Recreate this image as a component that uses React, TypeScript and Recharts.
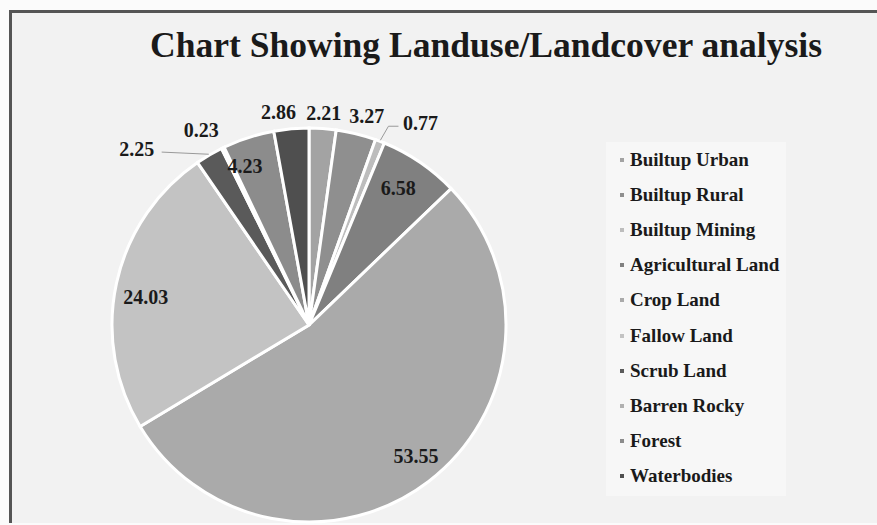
import React from "react";
import { PieChart, Pie, Cell, Legend } from "recharts";

const categories = [
  "Builtup Urban",
  "Builtup Rural",
  "Builtup Mining",
  "Agricultural Land",
  "Crop Land",
  "Fallow Land",
  "Scrub Land",
  "Barren Rocky",
  "Forest",
  "Waterbodies",
];
const shares = [2.21, 3.27, 0.77, 6.58, 53.55, 24.03, 2.25, 0.23, 4.23, 2.86];
const colors = [
  "#a3a3a3",
  "#8f8f8f",
  "#bdbdbd",
  "#808080",
  "#aaaaaa",
  "#c3c3c3",
  "#5a5a5a",
  "#b0b0b0",
  "#8c8c8c",
  "#4f4f4f",
];

// label placement: radius factor, angular shift (deg clockwise), leader line
const labelRadius = [1.08, 1.1, 1.17, 0.83, 0.86, 0.84, 1.25, 1.13, 0.87, 1.09];
const labelShift = [0, 1.6, 7.8, -1.3, -1.8, -2.7, -14, -3, -4, -3];
const leader = [false, false, true, false, false, false, true, false, false, false];

const data = categories.map((name, i) => ({ name, value: shares[i] }));

const W = 877;
const H = 525;
const FONT = "'Liberation Serif', 'Times New Roman', serif";

const renderLabel = (props: any) => {
  const { cx, cy, midAngle, outerRadius, index, value } = props;
  const rad = Math.PI / 180;
  const theta = 90 - midAngle + labelShift[index];
  const r = outerRadius * labelRadius[index];
  const x = cx + r * Math.sin(theta * rad);
  const y = cy - r * Math.cos(theta * rad);
  const edgeT = 90 - midAngle;
  const ex = cx + (outerRadius + 1) * Math.sin(edgeT * rad);
  const ey = cy - (outerRadius + 1) * Math.cos(edgeT * rad);
  let line = null;
  if (leader[index]) {
    const right = x > ex;
    const endX = right ? x - 22 : x + 25;
    const endY = y + 3;
    const pts = right
      ? `${ex},${ey} ${endX - 10},${endY} ${endX},${endY}`
      : `${ex},${ey} ${endX},${endY}`;
    line = <polyline points={pts} fill="none" stroke="#9a9a9a" strokeWidth={1} />;
  }
  return (
    <g>
      {line}
      <text
        x={x}
        y={y}
        textAnchor="middle"
        dominantBaseline="central"
        fontFamily={FONT}
        fontWeight="bold"
        fontSize={20}
        fill="#1a1a1a"
      >
        {value.toFixed(2)}
      </text>
    </g>
  );
};

const LegendList = () => (
  <div style={{ fontFamily: FONT, fontWeight: "bold", fontSize: 19, color: "#1a1a1a" }}>
    {categories.map((name, i) => (
      <div
        key={name}
        style={{ display: "flex", alignItems: "center", height: 35.2, whiteSpace: "nowrap" }}
      >
        <span
          style={{
            width: 4,
            height: 4,
            background: colors[i],
            marginRight: 6,
            display: "inline-block",
          }}
        />
        {name}
      </div>
    ))}
  </div>
);

export default function App() {
  return (
    <div
      style={{
        position: "absolute",
        left: 0,
        top: 0,
        width: W,
        height: H,
        background: "#fbfbfb",
        overflow: "hidden",
      }}
    >
      <div
        style={{
          position: "absolute",
          left: 9,
          top: 10,
          width: W - 9,
          height: H - 12,
          background: "#f2f2f2",
          borderTop: "3px solid #555",
          borderLeft: "3px solid #555",
          boxSizing: "border-box",
        }}
      />
      <div
        style={{
          position: "absolute",
          left: 606,
          top: 142,
          width: 180,
          height: 354,
          background: "#f7f7f7",
        }}
      />
      <svg style={{ position: "absolute", left: 0, top: 0 }} width={W} height={100}>
        <text
          x={150}
          y={57}
          fontFamily={FONT}
          fontWeight="bold"
          fontSize={36}
          fill="#1a1a1a"
          textLength={672}
          lengthAdjust="spacingAndGlyphs"
        >
          Chart Showing Landuse/Landcover analysis
        </text>
      </svg>
      <div style={{ position: "absolute", left: 0, top: 0 }}>
        <PieChart width={W} height={H} margin={{ top: 0, right: 0, bottom: 0, left: 0 }}>
          <Pie
            data={data}
            dataKey="value"
            nameKey="name"
            cx={309}
            cy={325}
            outerRadius={197}
            startAngle={90}
            endAngle={-270}
            stroke="#ffffff"
            strokeWidth={3}
            label={renderLabel}
            labelLine={false}
            isAnimationActive={false}
          >
            {data.map((d, i) => (
              <Cell key={d.name} fill={colors[i]} />
            ))}
          </Pie>
          <Legend
            layout="vertical"
            content={<LegendList />}
            wrapperStyle={{ position: "absolute", left: 620, top: 142, width: 180 }}
          />
        </PieChart>
      </div>
    </div>
  );
}
